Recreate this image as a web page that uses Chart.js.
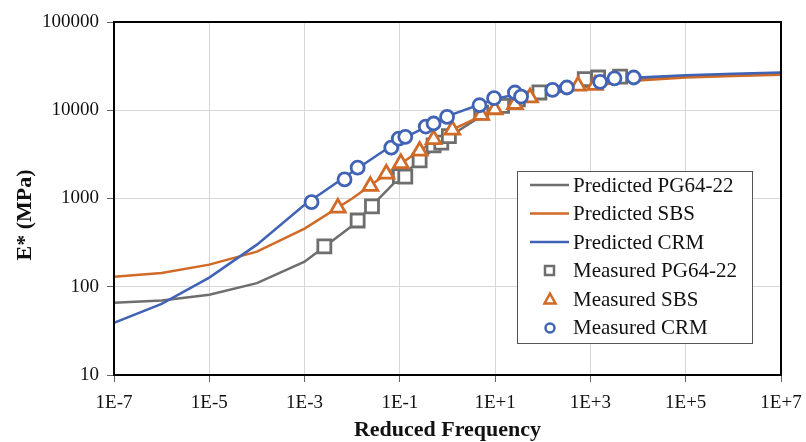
<!DOCTYPE html>
<html>
<head>
<meta charset="utf-8">
<script src="https://cdn.jsdelivr.net/npm/chart.js@4/dist/chart.umd.min.js"></script>
<style>
  html, body { margin: 0; padding: 0; background: #fff; }
  #wrap { width: 806px; height: 442px; }
</style>
</head>
<body>
<div id="wrap"><canvas id="myChart" width="806" height="442"></canvas></div>
<script>
// predicted master curves, one point per decade
const predFreq = [1e-7, 1e-6, 1e-5, 1e-4, 1e-3, 1e-2, 1e-1, 1e0, 1e1, 1e2, 1e3, 1e4, 1e5, 1e6, 1e7];
const predPG = [66, 70, 81, 110, 192, 490, 1750, 4900, 10800, 16000, 20500, 23000, 24500, 25200, 25600];
const predSBS = [130, 143, 178, 250, 455, 1000, 2450, 5700, 10200, 14800, 18800, 21700, 23500, 24500, 25200];
const predCRM = [39, 64, 127, 300, 850, 2000, 4600, 8600, 13400, 17600, 21000, 23500, 25000, 26000, 26800];

// measured E* values
const measPGFreq = [2.6e-3, 1.3e-2, 2.6e-2, 0.10, 0.13, 0.26, 0.51, 0.74, 1.07, 5.1, 14, 30, 85, 760, 1450, 4200];
const measPG = [287, 563, 815, 1790, 1770, 2700, 4000, 4300, 5100, 9400, 11200, 13300, 15900, 22500, 23500, 24000];
const measSBSFreq = [5.0e-3, 2.4e-2, 5.2e-2, 0.105, 0.26, 0.51, 1.26, 5.1, 9.8, 26, 54, 550, 1250];
const measSBS = [783, 1380, 1900, 2500, 3460, 4680, 6000, 8800, 10200, 11700, 13900, 18900, 19300];
const measCRMFreq = [1.4e-3, 6.9e-3, 1.3e-2, 6.6e-2, 9.5e-2, 0.13, 0.35, 0.51, 0.98, 4.7, 9.5, 26, 35, 160, 320, 1600, 3200, 8100];
const measCRM = [908, 1645, 2235, 3770, 4760, 5000, 6540, 7080, 8400, 11400, 13700, 15900, 14300, 17000, 18100, 21000, 23000, 23500];

const xTicks = [1e-7, 1e-5, 1e-3, 1e-1, 1e1, 1e3, 1e5, 1e7];
const yTicks = [10, 100, 1000, 10000, 100000];

const GRAY = "#6e6e6e";
const ORANGE = "#d06a26";
const BLUE = "#4163b5";
const SERIF = "'Liberation Serif', 'Times New Roman', serif";

const pts = (xs, ys) => xs.map((x, i) => ({ x: x, y: ys[i] }));

function lineSet(label, ys, color, order) {
    return {
        label: label,
        data: pts(predFreq, ys),
        showLine: true,
        borderColor: color,
        backgroundColor: color,
        borderWidth: 2.5,
        pointRadius: 0,
        tension: 0,
        order: order,
    };
}

function markSet(label, xs, ys, color, style, r, order) {
    return {
        label: label,
        data: pts(xs, ys),
        showLine: false,
        pointStyle: style,
        pointRadius: r,
        pointBorderWidth: 2.8,
        borderColor: color,
        backgroundColor: "#fff",
        order: order,
    };
}

// black frame round the plot area
const frame = {
    id: "frame",
    afterDatasetsDraw(chart) {
        const a = chart.chartArea, c = chart.ctx;
        c.save();
        c.strokeStyle = "#000";
        c.lineWidth = 2;
        c.strokeRect(a.left, a.top, a.right - a.left, a.bottom - a.top);
        c.restore();
    },
};

// y title sits a bit below the middle of the axis in the original
const yTitle = {
    id: "yTitle",
    afterDraw(chart) {
        const c = chart.ctx;
        c.save();
        c.translate(25, 215);
        c.rotate(-Math.PI / 2);
        c.font = "bold 22px " + SERIF;
        c.fillStyle = "#111";
        c.textAlign = "center";
        c.textBaseline = "middle";
        c.fillText("E* (MPa)", 0, 0);
        c.restore();
    },
};

// legend box inside the plot, like the Excel one
const boxLegend = {
    id: "boxLegend",
    afterDraw(chart) {
        const c = chart.ctx;
        const x0 = 517, y0 = 171, w = 235, h = 172;
        c.save();
        c.fillStyle = "#fff";
        c.fillRect(x0, y0, w, h);
        c.strokeStyle = "#555";
        c.lineWidth = 1;
        c.strokeRect(x0 + 0.5, y0 + 0.5, w, h);
        c.font = "21px " + SERIF;
        c.textBaseline = "middle";
        chart.data.datasets.forEach((ds, i) => {
            const y = 185 + i * 28.5;
            c.strokeStyle = ds.borderColor;
            c.lineWidth = 2.5;
            c.beginPath();
            if (ds.showLine) {
                c.moveTo(530, y);
                c.lineTo(569, y);
            } else if (ds.pointStyle === "rect") {
                c.rect(545, y - 4.5, 9, 9);
            } else if (ds.pointStyle === "triangle") {
                c.moveTo(550, y - 5.5);
                c.lineTo(555.5, y + 4.5);
                c.lineTo(544.5, y + 4.5);
                c.closePath();
            } else {
                c.arc(550, y + 0.5, 4.5, 0, Math.PI * 2);
            }
            c.stroke();
            c.fillStyle = "#111";
            c.fillText(ds.label, 573, y + 1);
        });
        c.restore();
    },
};

const ctx = document.getElementById("myChart");
new Chart(ctx, {
    type: "scatter",
    data: {
        datasets: [
            lineSet("Predicted PG64-22", predPG, GRAY, 6),
            lineSet("Predicted SBS", predSBS, ORANGE, 5),
            lineSet("Predicted CRM", predCRM, BLUE, 4),
            markSet("Measured PG64-22", measPGFreq, measPG, GRAY, "rect", 9.2, 3),
            markSet("Measured SBS", measSBSFreq, measSBS, ORANGE, "triangle", 8.5, 2),
            markSet("Measured CRM", measCRMFreq, measCRM, BLUE, "circle", 6.5, 1),
        ],
    },
    options: {
        responsive: false,
        animation: false,
        layout: { autoPadding: false, padding: { top: 22, right: 25, left: 0, bottom: 0 } },
        plugins: {
            legend: { display: false },
            tooltip: { enabled: false },
        },
        scales: {
            x: {
                type: "logarithmic",
                min: 1e-7,
                max: 1e7,
                afterBuildTicks: (s) => { s.ticks = xTicks.map((v) => ({ value: v })); },
                afterFit: (s) => {
                    s.height = 67;
                    s.paddingLeft = 0;
                    s.paddingRight = 20;
                },
                grid: { color: "#d6d6d6", lineWidth: 1, tickLength: 7, tickColor: "#666" },
                border: { color: "#000", width: 2 },
                ticks: {
                    color: "#111",
                    font: { family: SERIF, size: 19 },
                    padding: 10,
                    maxRotation: 0,
                    autoSkip: false,
                    callback: (v) => {
                        const e = Math.round(Math.log10(v));
                        return "1E" + (e >= 0 ? "+" : "-") + Math.abs(e);
                    },
                },
                title: {
                    display: true,
                    text: "Reduced Frequency",
                    color: "#111",
                    font: { family: SERIF, size: 22, weight: "bold" },
                    padding: { top: 0, bottom: -2 },
                },
            },
            y: {
                type: "logarithmic",
                min: 10,
                max: 100000,
                afterBuildTicks: (s) => { s.ticks = yTicks.map((v) => ({ value: v })); },
                afterFit: (s) => { s.width = 114; },
                grid: { color: "#d6d6d6", lineWidth: 1, tickLength: 7, tickColor: "#666" },
                border: { color: "#000", width: 2 },
                ticks: {
                    color: "#111",
                    font: { family: SERIF, size: 19 },
                    padding: 8,
                    autoSkip: false,
                    callback: (v) => String(v),
                },
                title: { display: false },
            },
        },
    },
    plugins: [frame, yTitle, boxLegend],
});
</script>
</body>
</html>
